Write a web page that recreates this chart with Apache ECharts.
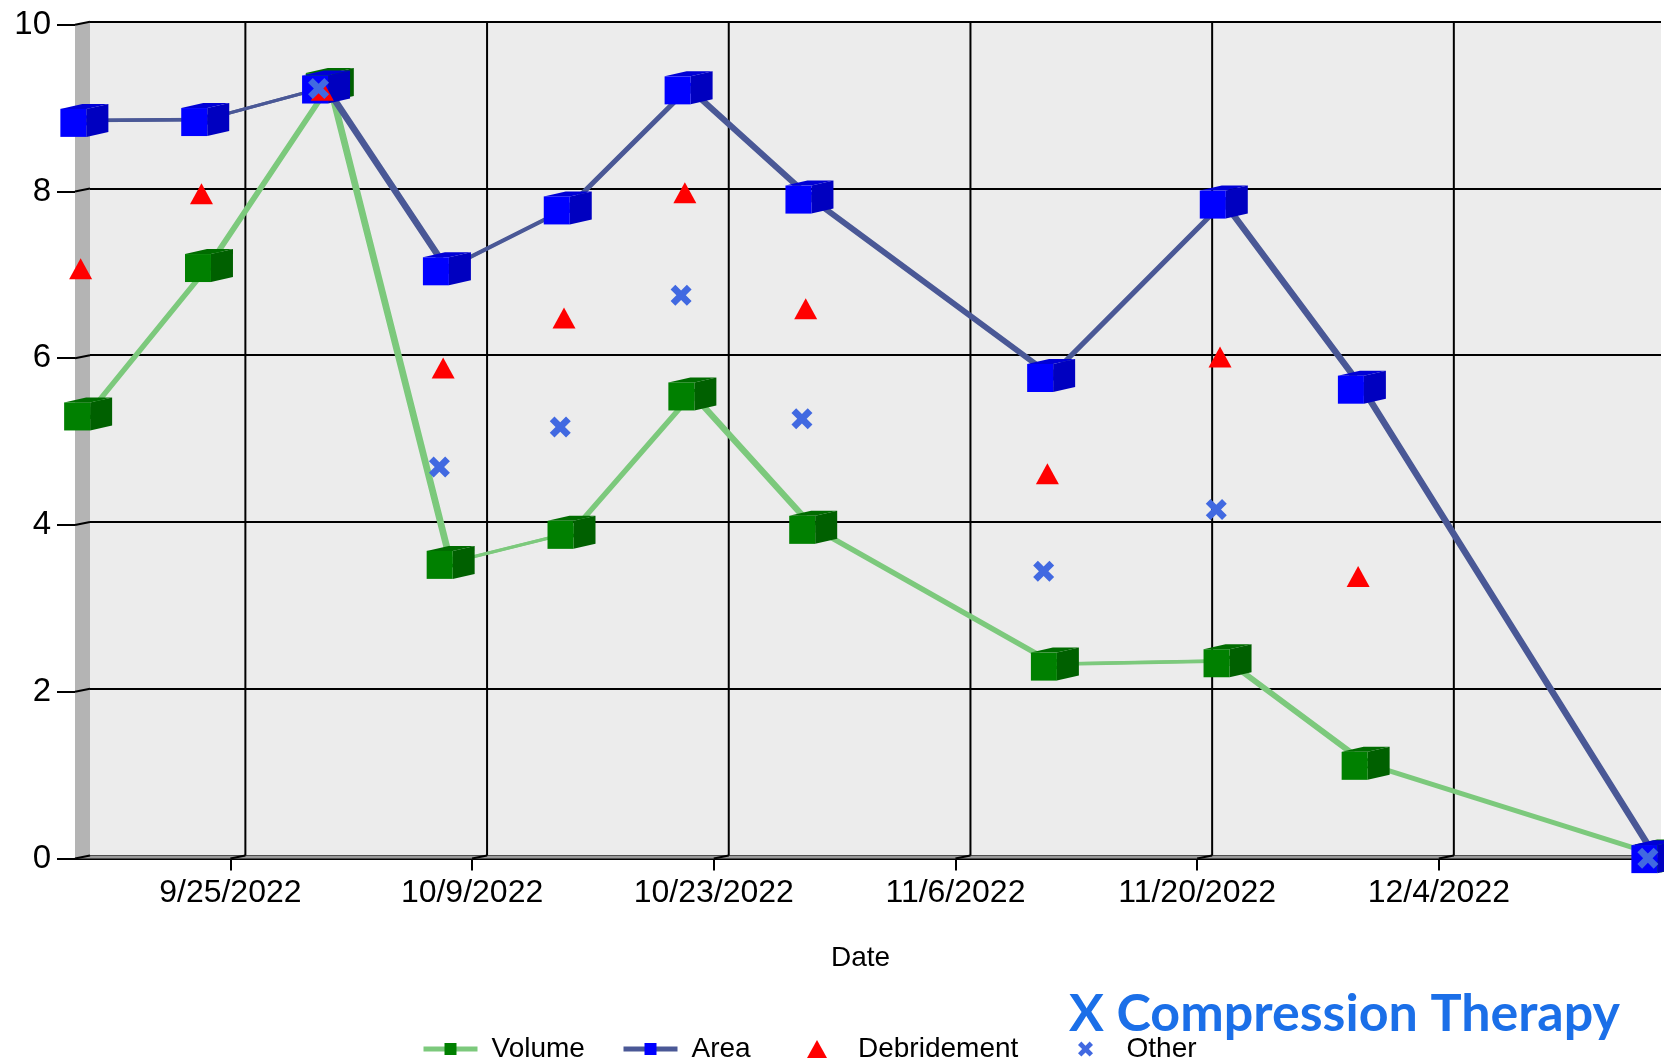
<!DOCTYPE html>
<html>
<head>
<meta charset="utf-8">
<script src="https://cdn.jsdelivr.net/npm/echarts@6/dist/echarts.min.js"></script>
<style>
  html, body { margin: 0; padding: 0; background: #ffffff; }
  #chart { width: 1664px; height: 1063px; }
</style>
</head>
<body>
<div id="chart"></div>
<script>
// ---- data -------------------------------------------------------------
const visitDates = ['2022-09-16', '2022-09-23', '2022-09-30', '2022-10-07', '2022-10-14', '2022-10-21',
                    '2022-10-28', '2022-11-11', '2022-11-21', '2022-11-29', '2022-12-16'];
const volumeValues = [5.30, 7.08, 9.25, 3.52, 3.88, 5.54, 3.94, 2.30, 2.34, 1.11, 0];
const areaValues   = [8.83, 8.84, 9.23, 7.05, 7.78, 9.22, 7.91, 5.77, 7.85, 5.63, 0];

const debridementDates  = ['2022-09-16', '2022-09-23', '2022-09-30', '2022-10-07', '2022-10-14',
                           '2022-10-21', '2022-10-28', '2022-11-11', '2022-11-21', '2022-11-29'];
const debridementValues = [7.06, 7.96, 9.20, 5.87, 6.47, 7.97, 6.58, 4.60, 6.00, 3.37];

const otherDates  = ['2022-09-30', '2022-10-07', '2022-10-14', '2022-10-21', '2022-10-28',
                     '2022-11-11', '2022-11-21', '2022-12-16'];
const otherValues = [9.23, 4.69, 5.17, 6.75, 5.27, 3.44, 4.18, 0];

const dateTicks  = ['2022-09-25', '2022-10-09', '2022-10-23', '2022-11-06', '2022-11-20', '2022-12-04'];
const valueTicks = [0, 2, 4, 6, 8, 10];
const axisStart = '2022-09-16';
const axisEnd   = '2022-12-16';

// ---- helpers ----------------------------------------------------------
const FONT = "'Liberation Sans', Arial, sans-serif";
const T = s => { const p = s.split('-').map(Number); return Date.UTC(p[0], p[1] - 1, p[2]); };
const fmtDate = v => { const d = new Date(v); return (d.getUTCMonth() + 1) + '/' + d.getUTCDate() + '/' + d.getUTCFullYear(); };
const pairs = (dates, vals) => dates.map((d, i) => [T(d), vals[i]]);
const segments = (dates, vals) => dates.slice(1).map((d, i) => [T(dates[i]), vals[i], T(d), vals[i + 1]]);

// Oblique 3D look: the back wall carries the grid, the front edge carries the axes,
// and every series sits in its own depth row between them.
const BACK  = { left: 90, right: 3, top: 21.7, bottom: 207.5 };
const DEPTH = { dx: -15, dy: 3 };                 // back wall -> front edge
const ROWS  = [0, 1 / 8, 3 / 8, 5 / 8, 7 / 8, 1]; // wall, Volume, Area, Debridement, Other, front
const ROW_DEPTH = { dx: -DEPTH.dx / 4, dy: -DEPTH.dy / 4 }; // one row, pointing to the back
const CUBE = { w: 26, h: 28, dx: 22, dy: -5 };

const grids = ROWS.map(f => ({
  left: BACK.left + DEPTH.dx * f,
  right: BACK.right - DEPTH.dx * f,
  top: BACK.top + DEPTH.dy * f,
  bottom: BACK.bottom - DEPTH.dy * f,
  containLabel: false
}));
grids[0].show = true;
grids[0].backgroundColor = '#ececec';
grids[0].borderWidth = 0;

const xAxes = ROWS.map((f, i) => ({
  gridIndex: i, type: 'value', min: T(axisStart), max: T(axisEnd),
  axisLine: { show: false }, axisTick: { show: false }, axisLabel: { show: false }, splitLine: { show: false }
}));
const yAxes = ROWS.map((f, i) => ({
  gridIndex: i, type: 'value', min: 0, max: 10, interval: 2,
  axisLine: { show: false }, axisTick: { show: false }, axisLabel: { show: false }, splitLine: { show: false }
}));

// back wall grid rows
yAxes[0].splitLine = { show: true, lineStyle: { color: '#000', width: 2 } };

// front edge: ticks, labels and the axis title
const FRONT = ROWS.length - 1;
Object.assign(xAxes[FRONT], {
  name: 'Date', nameLocation: 'middle', nameGap: 86,
  nameTextStyle: { fontFamily: FONT, fontSize: 28, color: '#000' },
  axisLine: { show: true, lineStyle: { color: '#000', width: 2 } },
  axisTick: { show: true, length: 12, customValues: dateTicks.map(T), lineStyle: { color: '#000', width: 2 } },
  axisLabel: { show: true, customValues: dateTicks.map(T), formatter: v => fmtDate(v), margin: 19,
               fontFamily: FONT, fontSize: 32, lineHeight: 32, color: '#000' }
});
Object.assign(yAxes[FRONT], {
  axisTick: { show: true, length: 18, lineStyle: { color: '#000', width: 2 } },
  axisLabel: { show: true, margin: 24, fontFamily: FONT, fontSize: 33, color: '#000' }
});

// ---- custom renderers --------------------------------------------------
const shift = (p, d, k = 1) => [p[0] + d.dx * k, p[1] + d.dy * k];

function renderWall(params, api) {
  const p = api.coord([api.value(0), api.value(1)]);
  const children = [];
  if (params.dataIndex === 0) {
    const top = api.coord([T(axisStart), 10]);
    const bl = api.coord([T(axisStart), 0]);
    const br = api.coord([T(axisEnd), 0]);
    children.push({ type: 'polygon', shape: { points: [top, bl, shift(bl, DEPTH), shift(top, DEPTH)] },
                    style: { fill: '#b4b4b4' } });
    children.push({ type: 'polygon', shape: { points: [bl, br, shift(br, DEPTH), shift(bl, DEPTH)] },
                    style: { fill: '#9a9a9a' } });
  }
  children.push({ type: 'line', shape: { x1: p[0], y1: p[1], x2: p[0] + DEPTH.dx, y2: p[1] + DEPTH.dy },
                  style: { stroke: '#000', lineWidth: 2 } });
  return { type: 'group', children };
}

function renderColumn(params, api) {
  const b = api.coord([api.value(0), 0]);
  const t = api.coord([api.value(0), 10]);
  return { type: 'group', children: [
    { type: 'line', shape: { x1: t[0], y1: t[1], x2: b[0], y2: b[1] }, style: { stroke: '#000', lineWidth: 2 } },
    { type: 'line', shape: { x1: b[0], y1: b[1], x2: b[0] + DEPTH.dx, y2: b[1] + DEPTH.dy },
      style: { stroke: '#000', lineWidth: 2 } }
  ] };
}

const ribbonRenderer = color => (params, api) => {
  const a = api.coord([api.value(0), api.value(1)]);
  const b = api.coord([api.value(2), api.value(3)]);
  return {
    type: 'polygon',
    shape: { points: [shift(a, ROW_DEPTH, -0.5), shift(b, ROW_DEPTH, -0.5), shift(b, ROW_DEPTH, 0.5), shift(a, ROW_DEPTH, 0.5)] },
    style: { fill: color, stroke: color, lineWidth: 3, lineJoin: 'round' }
  };
};

const cubeRenderer = c => (params, api) => {
  const p = api.coord([api.value(0), api.value(1)]);
  const x0 = p[0] - CUBE.dx / 2 - CUBE.w / 2, x1 = x0 + CUBE.w;
  const y0 = p[1] - CUBE.dy / 2 - CUBE.h / 2, y1 = y0 + CUBE.h;
  return { type: 'group', children: [
    { type: 'polygon', shape: { points: [[x1, y0], [x1 + CUBE.dx, y0 + CUBE.dy], [x1 + CUBE.dx, y1 + CUBE.dy], [x1, y1]] },
      style: { fill: c.side } },
    { type: 'polygon', shape: { points: [[x0, y0], [x0 + CUBE.dx, y0 + CUBE.dy], [x1 + CUBE.dx, y0 + CUBE.dy], [x1, y0]] },
      style: { fill: c.top } },
    { type: 'rect', shape: { x: x0, y: y0, width: CUBE.w, height: CUBE.h }, style: { fill: c.front } }
  ] };
};

const X_MARK = 'path://M4.5,0 L10,5.5 L15.5,0 L20,4.5 L14.5,10 L20,15.5 L15.5,20 L10,14.5 L4.5,20 L0,15.5 L5.5,10 L0,4.5 Z';
const TRIANGLE = 'path://M10,0 L20,18 L0,18 Z';

const VOLUME = { line: '#7cc97c', cube: { front: '#008000', side: '#006000', top: '#006c00' } };
const AREA   = { line: '#4a5896', cube: { front: '#0000ff', side: '#0000c0', top: '#0000d6' } };

// one legend block per entry so each sits where the chart layout puts it
const legendEntry = (name, left, itemHeight) => ({
  data: [name], left, top: 1035, padding: 0,
  itemWidth: 54, itemHeight,
  lineStyle: { width: 5 },
  textStyle: { fontFamily: FONT, fontSize: 28, color: '#000', padding: [0, 0, 0, 9] }
});

// ---- chart --------------------------------------------------------------
const chart = echarts.init(document.getElementById('chart'), null, { renderer: 'canvas' });
chart.setOption({
  animation: false,
  backgroundColor: '#ffffff',
  title: {
    text: 'X Compression Therapy', left: 1069, top: 988, padding: 0,
    textStyle: { fontFamily: 'Lato, sans-serif', fontWeight: 'bold', fontSize: 52, color: '#1b6fe8' }
  },
  legend: [
    legendEntry('Volume', 421, 15),
    legendEntry('Area', 621, 15),
    legendEntry('Debridement', 807, 18),
    legendEntry('Other', 1078, 15)
  ],
  grid: grids,
  xAxis: xAxes,
  yAxis: yAxes,
  series: [
    { type: 'custom', name: 'wall', xAxisIndex: 0, yAxisIndex: 0, z: 1, silent: true,
      data: valueTicks.map(v => [T(axisStart), v]), renderItem: renderWall },
    { type: 'custom', name: 'columns', xAxisIndex: 0, yAxisIndex: 0, z: 2, silent: true,
      data: dateTicks.map(d => [T(d), 0]), renderItem: renderColumn },

    // Volume row
    { type: 'line', name: 'Volume', xAxisIndex: 1, yAxisIndex: 1, z: 3, clip: false,
      data: pairs(visitDates, volumeValues), symbol: 'rect', symbolSize: 10,
      lineStyle: { color: VOLUME.line, width: 3 }, itemStyle: { color: VOLUME.cube.front } },
    { type: 'custom', name: 'Volume ribbon', xAxisIndex: 1, yAxisIndex: 1, z: 4,
      data: segments(visitDates, volumeValues), encode: { x: [0, 2], y: [1, 3] },
      renderItem: ribbonRenderer(VOLUME.line) },
    { type: 'custom', name: 'Volume cubes', xAxisIndex: 1, yAxisIndex: 1, z: 5,
      data: pairs(visitDates, volumeValues), renderItem: cubeRenderer(VOLUME.cube) },

    // Area row
    { type: 'line', name: 'Area', xAxisIndex: 2, yAxisIndex: 2, z: 6, clip: false,
      data: pairs(visitDates, areaValues), symbol: 'rect', symbolSize: 10,
      lineStyle: { color: AREA.line, width: 3 }, itemStyle: { color: AREA.cube.front } },
    { type: 'custom', name: 'Area ribbon', xAxisIndex: 2, yAxisIndex: 2, z: 7,
      data: segments(visitDates, areaValues), encode: { x: [0, 2], y: [1, 3] },
      renderItem: ribbonRenderer(AREA.line) },
    { type: 'custom', name: 'Area cubes', xAxisIndex: 2, yAxisIndex: 2, z: 8,
      data: pairs(visitDates, areaValues), renderItem: cubeRenderer(AREA.cube) },

    // marker-only rows
    { type: 'scatter', name: 'Debridement', xAxisIndex: 3, yAxisIndex: 3, z: 9, clip: false,
      data: pairs(debridementDates, debridementValues),
      symbol: TRIANGLE, symbolSize: [23, 21], itemStyle: { color: '#ff0000', opacity: 1 } },
    { type: 'scatter', name: 'Other', xAxisIndex: 4, yAxisIndex: 4, z: 10, clip: false,
      data: pairs(otherDates, otherValues),
      symbol: X_MARK, symbolSize: 21, itemStyle: { color: '#4169e1', opacity: 1 } }
  ]
});
</script>
</body>
</html>
